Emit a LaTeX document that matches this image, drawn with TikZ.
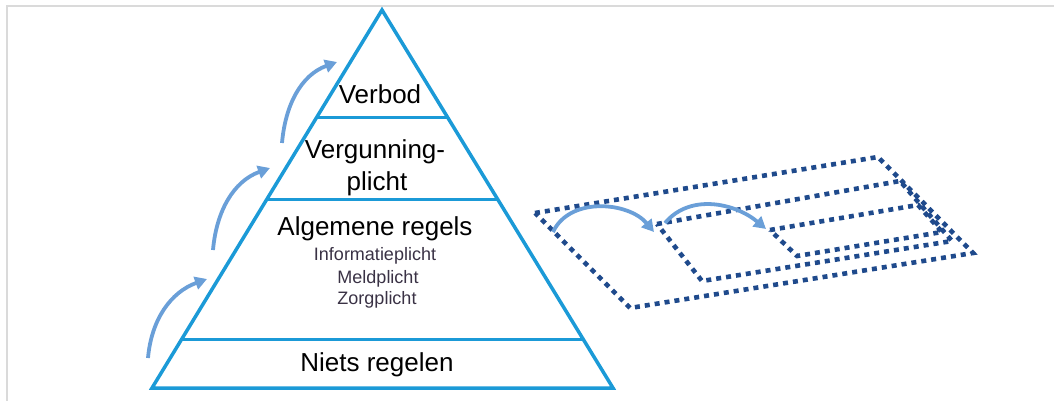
\documentclass[tikz,border=0pt]{standalone}
\usepackage{fontspec}
\setmainfont{Liberation Sans}
\usetikzlibrary{arrows.meta,calc}
\definecolor{pyrblue}{HTML}{1B9AD7}
\definecolor{arrblue}{HTML}{6A9FD8}
\definecolor{dotblue}{HTML}{1F4A8C}
\definecolor{framegray}{HTML}{DADADA}
\definecolor{smalltxt}{HTML}{3A3245}
\begin{document}
\begin{tikzpicture}[x=1pt,y=-1pt,
  pyr/.style={draw=pyrblue,line width=3.5pt,line join=miter},
  sep/.style={draw=pyrblue,line width=3pt},
  bigtxt/.style={font=\fontsize{26}{31}\selectfont,text=black,inner sep=0pt,anchor=base},
  smtxt/.style={font=\fontsize{18}{22}\selectfont,text=smalltxt,inner sep=0pt,anchor=base},
  uparrow/.style={draw=arrblue,line width=3.8pt,-{Triangle[length=12pt,width=13pt]}},
  dotrect/.style={draw=dotblue,line width=4.6pt,dash pattern=on 5pt off 5pt}
]
\useasboundingbox (0,0) rectangle (1054,401);
% frame
\draw[framegray,line width=2pt] (6.5,401) -- (6.5,6.5) -- (1054,6.5);
% pyramid
\coordinate (apex) at (382,10);
\coordinate (bl) at (152,388);
\coordinate (br) at (613,388);
\draw[pyr] (apex) -- (br) -- (bl) -- cycle;
\draw[sep] ($(apex)!0.2857!(bl)$) -- ($(apex)!0.2857!(br)$);
\draw[sep] ($(apex)!0.5!(bl)$) -- ($(apex)!0.5!(br)$);
\draw[sep] ($(apex)!0.873!(bl)$) -- ($(apex)!0.873!(br)$);
% texts
\node[bigtxt] (verbod) at (380,104) {Verbod};
\node[bigtxt] (verg1) at (375,158) {Vergunning-};
\node[bigtxt] (verg2) at (377,190) {plicht};
\node[bigtxt] (alg) at (375,235) {Algemene regels};
\node[smtxt] (info) at (375,260) {Informatieplicht};
\node[smtxt] (meld) at (378,283) {Meldplicht};
\node[smtxt] (zorg) at (377,304) {Zorgplicht};
\node[bigtxt] (niets) at (377,371) {Niets regelen};
% left arrows
\coordinate (a1s) at (148,358); \coordinate (a1e) at (207,279);
\coordinate (a2s) at (213,250); \coordinate (a2e) at (270,168);
\coordinate (a3s) at (282,143); \coordinate (a3e) at (337,62);
\draw[uparrow] (a1s) to[out=85,in=200] (a1e);
\draw[uparrow] (a2s) to[out=85,in=200] (a2e);
\draw[uparrow] (a3s) to[out=85,in=200] (a3e);
% dotted parallelograms
\coordinate (o1) at (535,213); \coordinate (o2) at (878,157);
\coordinate (o3) at (973,253); \coordinate (o4) at (630,308);
\coordinate (m1) at (657,224); \coordinate (m2) at (900,181);
\coordinate (m3) at (952,241); \coordinate (m4) at (702,281);
\coordinate (i1) at (770,230); \coordinate (i2) at (918,205);
\coordinate (i3) at (942,232); \coordinate (i4) at (797,256);
\draw[dotrect] (o1) -- (o2) -- (o3) -- (o4) -- cycle;
\draw[dotrect] (m1) -- (m2) -- (m3) -- (m4) -- cycle;
\draw[dotrect] (i1) -- (i2) -- (i3) -- (i4) -- cycle;
% right arrows
\coordinate (b1s) at (553,232); \coordinate (b1e) at (654,232);
\coordinate (b2s) at (665,223); \coordinate (b2e) at (766,229);
\draw[uparrow] (b1s) to[out=65,in=130] (b1e);
\draw[uparrow] (b2s) to[out=50,in=140] (b2e);
\end{tikzpicture}
\end{document}
